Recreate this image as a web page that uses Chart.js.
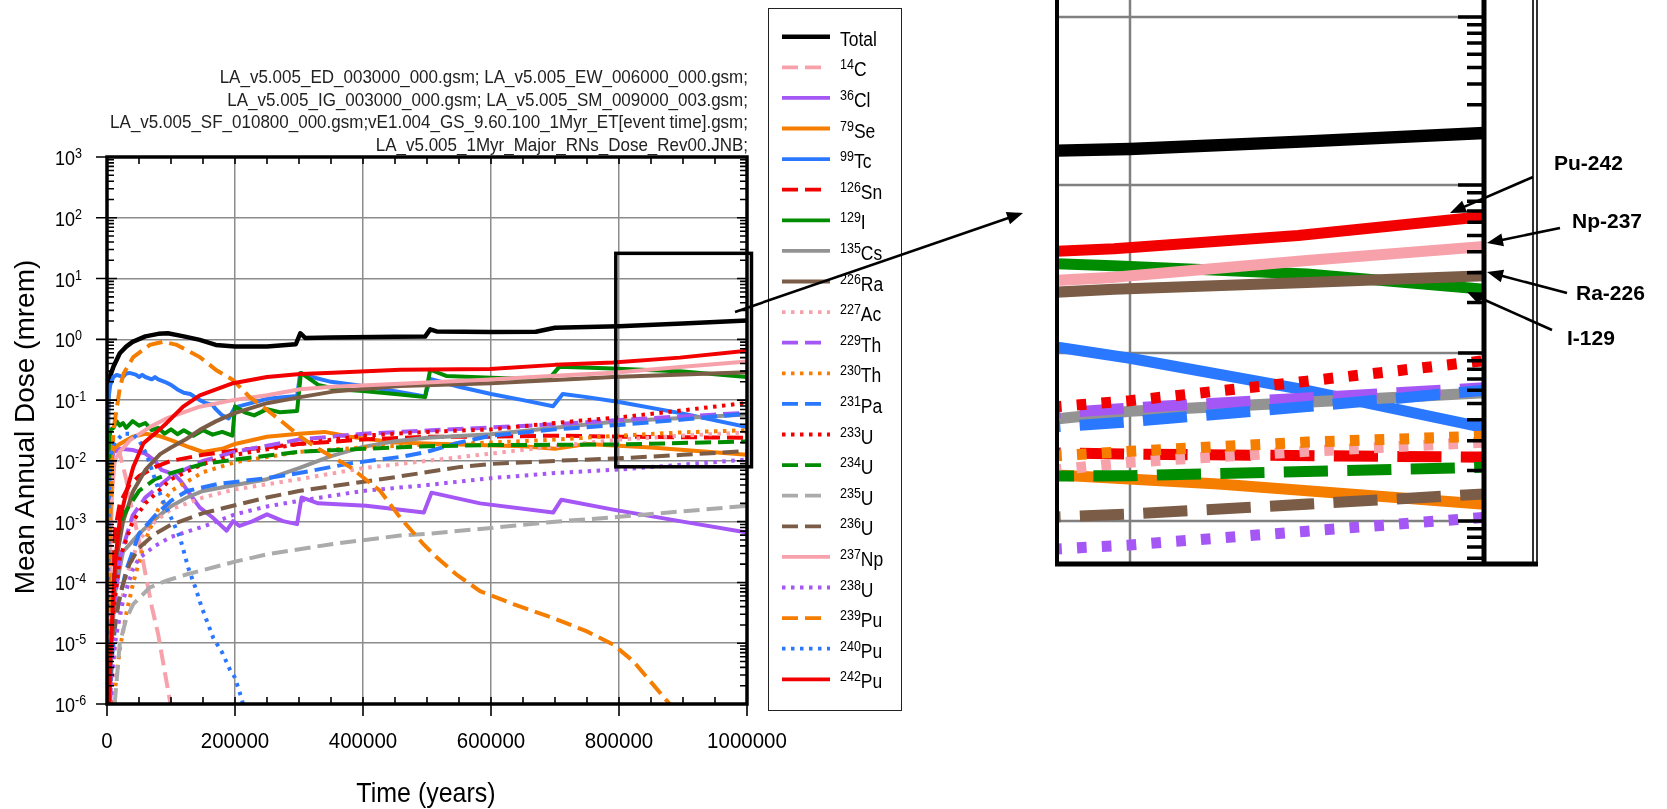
<!DOCTYPE html>
<html><head><meta charset="utf-8"><title>Mean Annual Dose</title>
<script src="https://cdn.jsdelivr.net/npm/chart.js@4.4.1/dist/chart.umd.min.js"></script>
<style>
html,body{margin:0;padding:0;background:#fff;}
body{width:1667px;height:809px;overflow:hidden;position:relative;font-family:"Liberation Sans",Arial,Helvetica,sans-serif;color:#000;}
canvas{position:absolute;}
.t{position:absolute;white-space:nowrap;line-height:1;}
.sup{position:relative;line-height:0;}
#legendBox{position:absolute;left:768px;top:8px;width:134px;height:703px;border:1.5px solid #222;box-sizing:border-box;}
svg{position:absolute;left:0;top:0;}
</style></head><body>
<canvas id="main" width="770" height="809" style="left:0;top:0"></canvas>
<canvas id="inset" width="520" height="620" style="left:1040px;top:-40px"></canvas>
<div id="legendBox"></div>
<svg id="legendSvg" width="1667" height="809"></svg>
<svg id="ann" width="1667" height="809"></svg>
<script>
// ---------------- data (time in years, dose in mrem) ----------------
const total = [[1000,0.02],[2000,0.166],[5000,0.25],[10000,0.355],[20000,0.59],[30000,0.76],[40000,0.91],[60000,1.12],[80000,1.23],[95000,1.26],[120000,1.12],[145000,0.98],[170000,0.81],[200000,0.76],[250000,0.76],[295000,0.83],[302000,1.26],[310000,1.05],[350000,1.07],[450000,1.1],[497000,1.11],[505000,1.46],[515000,1.35],[600000,1.32],[670000,1.33],[700000,1.55],[800000,1.64],[900000,1.82],[1000000,2.04]];
const c14 = [[1000,1e-6],[3000,3.2e-4],[6000,5e-3],[10000,0.0126],[15000,0.015],[20000,0.0132],[30000,5e-3],[40000,1.4e-3],[50000,5e-4],[60000,1.4e-4],[70000,4e-5],[80000,1.4e-5],[90000,3.5e-6],[100000,9e-7]];
const cl36 = [[1000,1e-6],[3000,1e-3],[6000,7.9e-3],[10000,0.0141],[20000,0.0158],[40000,0.0151],[60000,0.0132],[75000,0.01],[85000,7.1e-3],[105000,6e-3],[115000,4.7e-3],[130000,2.8e-3],[145000,1.7e-3],[165000,1.17e-3],[187000,7.1e-4],[197000,1.02e-3],[207000,8.5e-4],[228000,1.02e-3],[250000,1.32e-3],[275000,1.02e-3],[297000,9.1e-4],[304000,2.5e-3],[330000,2.0e-3],[405000,1.82e-3],[495000,1.41e-3],[507000,3.0e-3],[583000,2.0e-3],[697000,1.41e-3],[710000,2.3e-3],[791000,1.58e-3],[895000,1.02e-3],[1000000,6.6e-4]];
const se79 = [[1000,1e-6],[3000,1e-3],[6000,0.01],[10000,0.0158],[20000,0.019],[40000,0.025],[60000,0.028],[80000,0.026],[100000,0.022],[130000,0.0166],[150000,0.014],[180000,0.0158],[200000,0.019],[250000,0.025],[300000,0.028],[340000,0.03],[380000,0.025],[450000,0.02],[550000,0.0186],[650000,0.0174],[700000,0.0158],[750000,0.019],[850000,0.0166],[1000000,0.0126]];
const tc99 = [[500,0.001],[2000,0.1],[5000,0.178],[10000,0.24],[15000,0.26],[20000,0.25],[25000,0.24],[30000,0.275],[35000,0.28],[45000,0.263],[50000,0.24],[55000,0.26],[60000,0.24],[70000,0.22],[75000,0.24],[80000,0.22],[90000,0.2],[100000,0.178],[110000,0.15],[120000,0.132],[130000,0.126],[145000,0.1],[155000,0.089],[165000,0.083],[170000,0.071],[180000,0.056],[190000,0.05],[200000,0.076],[225000,0.089],[250000,0.105],[275000,0.112],[297000,0.117],[302000,0.28],[320000,0.24],[350000,0.2],[400000,0.17],[450000,0.14],[497000,0.115],[505000,0.224],[550000,0.166],[600000,0.126],[650000,0.1],[697000,0.079],[712000,0.126],[750000,0.112],[800000,0.093],[900000,0.06],[1000000,0.036]];
const sn126 = [[3000,1e-6],[6000,1e-4],[10000,5e-4],[20000,2e-3],[35000,4e-3],[50000,5.6e-3],[75000,7.9e-3],[100000,0.01],[150000,0.0126],[200000,0.0148],[300000,0.019],[400000,0.0224],[500000,0.025],[600000,0.025],[700000,0.026],[800000,0.025],[1000000,0.024]];
const i129 = [[500,1e-5],[2000,0.0032],[5000,0.032],[10000,0.035],[15000,0.045],[20000,0.038],[25000,0.042],[30000,0.035],[40000,0.045],[50000,0.038],[60000,0.042],[70000,0.032],[80000,0.035],[90000,0.028],[100000,0.033],[110000,0.0275],[120000,0.032],[135000,0.026],[150000,0.032],[165000,0.027],[180000,0.03],[196000,0.026],[200000,0.079],[215000,0.063],[230000,0.056],[250000,0.071],[270000,0.063],[297000,0.066],[303000,0.28],[330000,0.178],[360000,0.151],[400000,0.141],[450000,0.126],[497000,0.112],[505000,0.316],[530000,0.25],[600000,0.234],[690000,0.219],[707000,0.355],[790000,0.331],[900000,0.295],[1000000,0.24]];
const cs135 = [[3000,1e-6],[6000,6.3e-6],[12000,6.3e-5],[25000,3.2e-4],[50000,6.3e-4],[75000,1.1e-3],[100000,1.8e-3],[125000,2.5e-3],[150000,3.2e-3],[200000,4e-3],[250000,5e-3],[300000,7.6e-3],[350000,0.012],[400000,0.017],[450000,0.021],[500000,0.024],[600000,0.0275],[700000,0.035],[800000,0.045],[900000,0.051],[1000000,0.058]];
const ra226 = [[4000,1e-6],[8000,3.2e-5],[15000,2.5e-4],[25000,1e-3],[41000,3.2e-3],[60000,7.1e-3],[83000,0.0129],[100000,0.0166],[124000,0.0229],[145000,0.0324],[170000,0.0447],[197000,0.06],[250000,0.089],[302000,0.112],[353000,0.138],[458000,0.17],[600000,0.19],[700000,0.214],[791000,0.24],[900000,0.263],[1000000,0.288]];
const ac227 = [[5000,1e-6],[15000,1.6e-5],[30000,1.26e-4],[50000,5e-4],[75000,1e-3],[100000,1.6e-3],[150000,2.5e-3],[200000,3.4e-3],[300000,5e-3],[400000,7.6e-3],[500000,0.01],[600000,0.0132],[700000,0.0174],[800000,0.0224],[900000,0.026],[1000000,0.0295]];
const th229 = [[5000,1e-6],[10000,3.2e-5],[20000,2.5e-4],[40000,1.26e-3],[60000,2.5e-3],[100000,5.6e-3],[150000,0.01],[200000,0.0141],[300000,0.0224],[400000,0.028],[500000,0.0316],[600000,0.0355],[700000,0.04],[800000,0.047],[900000,0.054],[1000000,0.062]];
const th230 = [[10000,1e-6],[20000,8e-6],[30000,3e-5],[41000,1e-4],[60000,5e-4],[80000,1.6e-3],[100000,3.2e-3],[150000,6.5e-3],[200000,0.0095],[300000,0.0141],[400000,0.0166],[500000,0.0186],[600000,0.02],[700000,0.0224],[800000,0.026],[900000,0.0295],[1000000,0.032]];
const pa231 = [[3000,1e-6],[8000,6.3e-6],[15000,3.2e-5],[30000,1.6e-4],[50000,6.3e-4],[75000,1.26e-3],[100000,2.2e-3],[125000,3.2e-3],[175000,4.2e-3],[250000,5.2e-3],[300000,6.3e-3],[380000,9.1e-3],[460000,0.0117],[500000,0.0141],[550000,0.02],[600000,0.026],[700000,0.033],[800000,0.039],[900000,0.048],[1000000,0.06]];
const u233 = [[5000,1e-6],[10000,3.2e-5],[20000,2.5e-4],[40000,1e-3],[60000,2e-3],[100000,5e-3],[150000,8.9e-3],[200000,0.0126],[300000,0.019],[400000,0.026],[500000,0.03],[600000,0.033],[700000,0.042],[760000,0.048],[800000,0.052],[900000,0.068],[1000000,0.09]];
const u234 = [[3000,1e-6],[8000,3.2e-5],[15000,5e-4],[25000,1.26e-3],[50000,3.2e-3],[75000,5e-3],[100000,6.3e-3],[150000,8.9e-3],[200000,0.0105],[300000,0.0141],[400000,0.0158],[500000,0.0174],[600000,0.0182],[800000,0.0186],[1000000,0.0209]];
const u235 = [[12000,1e-6],[20000,1e-5],[30000,2.5e-5],[41000,4.4e-5],[67000,8.3e-5],[93000,1.07e-4],[124000,1.35e-4],[200000,2.2e-4],[250000,2.9e-4],[353000,4.3e-4],[458000,5.9e-4],[500000,6.3e-4],[600000,7.9e-4],[700000,1e-3],[800000,1.2e-3],[900000,1.48e-3],[1000000,1.82e-3]];
const u236 = [[3000,1e-6],[8000,1e-5],[20000,6.3e-5],[35000,2e-4],[50000,3.7e-4],[75000,6.3e-4],[100000,8.9e-4],[150000,1.38e-3],[200000,1.86e-3],[250000,2.5e-3],[300000,3.2e-3],[350000,3.8e-3],[450000,5.4e-3],[550000,7.9e-3],[600000,8.9e-3],[700000,0.01],[800000,0.011],[900000,0.0126],[1000000,0.0145]];
const np237 = [[2000,1e-6],[5000,3.2e-4],[8000,3.2e-3],[12000,0.01],[20000,0.0141],[36000,0.0219],[67000,0.036],[93000,0.05],[145000,0.078],[197000,0.1],[250000,0.12],[302000,0.151],[353000,0.166],[458000,0.186],[598000,0.219],[700000,0.251],[791000,0.282],[900000,0.355],[1000000,0.43]];
const u238 = [[5000,1e-6],[12000,1e-5],[25000,5e-5],[40000,1.6e-4],[50000,2.5e-4],[75000,4e-4],[100000,5.6e-4],[150000,8.3e-4],[200000,1.32e-3],[250000,1.78e-3],[300000,2.2e-3],[400000,3.2e-3],[500000,4e-3],[600000,5.2e-3],[700000,6.3e-3],[800000,7.2e-3],[900000,8.7e-3],[1000000,0.0105]];
const pu239 = [[2000,1e-6],[5000,1e-3],[10000,0.0316],[20000,0.158],[26000,0.275],[41000,0.51],[67000,0.81],[88000,0.91],[109000,0.81],[145000,0.51],[171000,0.31],[197000,0.214],[223000,0.112],[250000,0.069],[276000,0.042],[302000,0.025],[330000,0.0158],[380000,7.9e-3],[427000,3.2e-3],[458000,1.17e-3],[494000,4.3e-4],[515000,2.6e-4],[546000,1.35e-4],[583000,7.2e-5],[635000,4.4e-5],[697000,2.6e-5],[749000,1.58e-5],[791000,9.5e-6],[822000,5.1e-6],[853000,2.1e-6],[879000,1e-6],[890000,6.3e-7]];
const pu240 = [[1000,1e-5],[3000,3.2e-3],[6000,0.0126],[12000,0.02],[25000,0.028],[40000,0.028],[50000,0.022],[62000,0.0126],[75000,5e-3],[85000,2.5e-3],[100000,1.17e-3],[114000,5.5e-4],[127000,1.74e-4],[138000,8.3e-5],[148000,3.9e-5],[166000,1.23e-5],[180000,7e-6],[192000,3.7e-6],[200000,2.7e-6],[210000,1.26e-6],[215000,8e-7]];
const pu242 = [[3000,1e-6],[4700,4.7e-6],[7300,1.66e-5],[12500,2.1e-4],[20000,1.07e-3],[31000,3.3e-3],[41000,7.9e-3],[57000,0.0195],[78000,0.03],[93000,0.0417],[119000,0.078],[145000,0.12],[197000,0.19],[250000,0.24],[302000,0.269],[353000,0.282],[458000,0.316],[598000,0.324],[700000,0.38],[791000,0.417],[895000,0.5],[1000000,0.65]];

const seriesData = [total,c14,cl36,se79,tc99,sn126,i129,cs135,ra226,ac227,th229,th230,pa231,u233,u234,u235,u236,np237,u238,pu239,pu240,pu242];
const seriesPlain = ['Total','14C','36Cl','79Se','99Tc','126Sn','129I','135Cs','226Ra','227Ac','229Th','230Th','231Pa','233U','234U','235U','236U','237Np','238U','239Pu','240Pu','242Pu'];
const seriesMass = ['','14','36','79','99','126','129','135','226','227','229','230','231','233','234','235','236','237','238','239','240','242'];
const seriesElem = ['Total','C','Cl','Se','Tc','Sn','I','Cs','Ra','Ac','Th','Th','Pa','U','U','U','U','Np','U','Pu','Pu','Pu'];
const seriesStyle = ['solid','dash','solid','solid','solid','dash','solid','solid','solid','dot','dash','dot','dash','dot','dash','dash','dash','solid','dot','dash','dot','solid'];
const C = {black:'#000000',pink:'#f7a1ab',purple:'#a557f5',orange:'#f57d00',blue:'#2a78ff',red:'#f20000',green:'#008c00',gray:'#939393',lgray:'#ababab',brown:'#7b5c47'};
const seriesColors = [C.black,C.pink,C.purple,C.orange,C.blue,C.red,C.green,C.gray,C.brown,C.pink,C.purple,C.orange,C.blue,C.red,C.green,C.lgray,C.brown,C.pink,C.purple,C.orange,C.blue,C.red];

const xTickVals = [0,200000,400000,600000,800000,1000000];
const yTickExps = [3,2,1,0,-1,-2,-3,-4,-5,-6];
const zoomWindowX = [795000,1007000];
const zoomWindowY = [0.008,26];
const headerLines = ['LA_v5.005_ED_003000_000.gsm; LA_v5.005_EW_006000_000.gsm;','LA_v5.005_IG_003000_000.gsm; LA_v5.005_SM_009000_003.gsm;','LA_v5.005_SF_010800_000.gsm;vE1.004_GS_9.60.100_1Myr_ET[event time].gsm;','LA_v5.005_1Myr_Major_RNs_Dose_Rev00.JNB;'];
const calloutNames = ['Pu-242','Np-237','Ra-226','I-129'];

// ---------------- helpers ----------------
function buildDatasets(k){
  return seriesData.map((pts,i)=>{
    const st = seriesStyle[i];
    return {
      label: seriesPlain[i],
      data: pts.map(p=>({x:p[0],y:p[1]})),
      borderColor: seriesColors[i],
      backgroundColor: seriesColors[i],
      borderWidth: (i===0?4.5:4)*k,
      borderDash: st==='dash'?[16*k,7*k]:(st==='dot'?[3.5*k,5.5*k]:[]),
      borderCapStyle:'butt',
      borderJoinStyle: st==='solid'?'round':'miter',
      pointRadius:0, fill:false, tension:0,
      order: seriesData.length - i
    };
  });
}
const zeroX = s=>{s.height=0;}, zeroY = s=>{s.width=0;};

const mainDecor = {
  id:'mainDecor',
  afterDatasetsDraw(chart){
    const {ctx, chartArea:a, scales:{x,y}} = chart;
    ctx.save();
    ctx.strokeStyle='#000'; ctx.lineWidth=1.6;
    ctx.beginPath();
    yTickExps.forEach(e=>{
      const py = y.getPixelForValue(Math.pow(10,e));
      ctx.moveTo(a.left-11,py); ctx.lineTo(a.left+10,py);
      ctx.moveTo(a.right-10,py); ctx.lineTo(a.right,py);
      if(e<3){ for(let m=2;m<=9;m++){ const p=y.getPixelForValue(m*Math.pow(10,e));
        ctx.moveTo(a.left,p); ctx.lineTo(a.left+7,p); ctx.moveTo(a.right-7,p); ctx.lineTo(a.right,p);} }
    });
    for(let t=0;t<=1000000;t+=50000){
      const px=x.getPixelForValue(t);
      ctx.moveTo(px,a.bottom); ctx.lineTo(px,a.bottom-7);
      ctx.moveTo(px,a.top); ctx.lineTo(px,a.top+7);
    }
    xTickVals.forEach(t=>{const px=x.getPixelForValue(t); ctx.moveTo(px,a.bottom); ctx.lineTo(px,a.bottom+12);});
    ctx.stroke();
    ctx.lineWidth=3.5;
    ctx.strokeRect(a.left,a.top,a.right-a.left,a.bottom-a.top);
    // zoom window box
    const bx0=x.getPixelForValue(zoomWindowX[0]), bx1=x.getPixelForValue(zoomWindowX[1]);
    const by0=y.getPixelForValue(zoomWindowY[0]), by1=y.getPixelForValue(zoomWindowY[1]);
    ctx.lineWidth=3.5;
    ctx.strokeRect(bx0,by1,bx1-bx0,by0-by1);
    ctx.restore();
  }
};

const insetDecor = {
  id:'insetDecor',
  beforeDatasetsDraw(chart){
    const {ctx, chartArea:a, scales:{x,y}} = chart;
    const xr = x.getPixelForValue(1000000);
    ctx.save(); ctx.strokeStyle='#808080'; ctx.lineWidth=2.5; ctx.beginPath();
    [1,0,-1,-2].forEach(e=>{const py=y.getPixelForValue(Math.pow(10,e)); ctx.moveTo(a.left,py); ctx.lineTo(xr,py);});
    const gx=x.getPixelForValue(800000); ctx.moveTo(gx,a.top); ctx.lineTo(gx,a.bottom);
    ctx.stroke(); ctx.restore();
  },
  afterDatasetsDraw(chart){
    const {ctx, chartArea:a, scales:{x,y}} = chart;
    const xr = x.getPixelForValue(1000000);
    ctx.save(); ctx.strokeStyle='#000';
    ctx.lineWidth=3.5; ctx.beginPath();
    [1,0,-1,-2].forEach(e=>{
      const py=y.getPixelForValue(Math.pow(10,e)); ctx.moveTo(xr-26,py); ctx.lineTo(xr,py);
      for(let m=2;m<=9;m++){const p=y.getPixelForValue(m*Math.pow(10,e)); if(p>a.top && p<a.bottom){ctx.moveTo(xr-17,p); ctx.lineTo(xr,p);}}
    });
    for(let m=2;m<=9;m++){const p=y.getPixelForValue(m*Math.pow(10,-3)); if(p>a.top && p<a.bottom){ctx.moveTo(xr-17,p); ctx.lineTo(xr,p);}}
    ctx.stroke();
    ctx.lineWidth=5; ctx.beginPath(); ctx.moveTo(xr,a.top); ctx.lineTo(xr,a.bottom); ctx.stroke();
    ctx.lineWidth=4; ctx.beginPath(); ctx.moveTo(a.left,a.top); ctx.lineTo(a.left,a.bottom+2); ctx.stroke();
    ctx.lineWidth=5; ctx.beginPath(); ctx.moveTo(a.left-2,a.bottom); ctx.lineTo(a.right+3,a.bottom); ctx.stroke();
    ctx.lineWidth=1.6; ctx.beginPath();
    ctx.moveTo(a.right-2,a.top); ctx.lineTo(a.right-2,a.bottom);
    ctx.moveTo(a.right+2,a.top); ctx.lineTo(a.right+2,a.bottom);
    ctx.stroke();
    ctx.restore();
  }
};

// ---------------- main chart ----------------
const mainChart = new Chart(document.getElementById('main'),{
  type:'line',
  data:{datasets:buildDatasets(1)},
  options:{
    responsive:false, animation:false, devicePixelRatio:1,
    layout:{padding:{left:107,top:157,right:23,bottom:105}},
    plugins:{legend:{display:false},tooltip:{enabled:false}},
    scales:{
      x:{type:'linear',min:0,max:1000000,ticks:{display:false,stepSize:200000},
         grid:{color:'#8c8c8c',lineWidth:1.5,drawTicks:false},border:{display:false},afterFit:zeroX},
      y:{type:'logarithmic',min:1e-6,max:1e3,ticks:{display:false},
         grid:{color:'#8c8c8c',lineWidth:1.5,drawTicks:false},border:{display:false},
         afterBuildTicks:s=>{s.ticks=yTickExps.map(e=>({value:Math.pow(10,e)}));},afterFit:zeroY}
    }
  },
  plugins:[mainDecor]
});

// ---------------- inset (magnified window) ----------------
const insetK = 2.76;
const insetChart = new Chart(document.getElementById('inset'),{
  type:'line',
  data:{datasets:buildDatasets(insetK)},
  options:{
    responsive:false, animation:false, devicePixelRatio:1,
    layout:{padding:{left:17,top:10,right:25,bottom:16}},
    plugins:{legend:{display:false},tooltip:{enabled:false}},
    scales:{
      x:{type:'linear',min:758760,max:1028810,ticks:{display:false},grid:{display:false},border:{display:false},afterFit:zeroX},
      y:{type:'logarithmic',min:Math.pow(10,-2.256),max:Math.pow(10,1.28),ticks:{display:false},grid:{display:false},border:{display:false},afterFit:zeroY}
    }
  },
  plugins:[insetDecor]
});

// ---------------- text ----------------
function addText(html, css){
  const d=document.createElement('div'); d.className='t'; d.innerHTML=html; d.style.cssText+=css; document.body.appendChild(d); return d;
}
const headerY=[77,99.7,122.4,145.1];
headerLines.forEach((s,i)=>{
  const d=addText('', `right:${1667-748}px;top:${headerY[i]}px;font-size:17px;color:#222;transform:translateY(-50%) scaleY(1.12);transform-origin:100% 50%;`);
  d.textContent=s;
});
const ms=mainChart.scales;
yTickExps.forEach(e=>{
  const py=ms.y.getPixelForValue(Math.pow(10,e));
  addText(`10<span class="sup" style="font-size:12.5px;top:-6.5px">${e<0?'-'+(-e):e}</span>`,
    `left:55px;top:${py+1}px;font-size:18px;transform:translateY(-50%) scaleY(1.12);`);
});
xTickVals.forEach(v=>{
  const px=ms.x.getPixelForValue(v);
  addText(String(v), `left:${px}px;top:740px;font-size:20.5px;transform:translate(-50%,-50%) scaleY(1.12);`);
});
addText('Time (years)', 'left:426px;top:792px;font-size:25px;transform:translate(-50%,-50%) scaleY(1.12);');
addText('Mean Annual Dose (mrem)', 'left:25px;top:427px;font-size:28px;transform:translate(-50%,-50%) rotate(-90deg);');

// legend
const NS='http://www.w3.org/2000/svg';
const lsvg=document.getElementById('legendSvg');
const legendTop=36.7, legendStep=30.6;
seriesPlain.forEach((n,i)=>{
  const yy=legendTop+i*legendStep, st=seriesStyle[i];
  const ln=document.createElementNS(NS,'line');
  ln.setAttribute('x1',782); ln.setAttribute('x2',st==='dash'?821:830);
  ln.setAttribute('y1',yy); ln.setAttribute('y2',yy);
  ln.setAttribute('stroke',seriesColors[i]); ln.setAttribute('stroke-width',i===0?4.5:3.8);
  if(st==='dash') ln.setAttribute('stroke-dasharray','16 7');
  if(st==='dot') ln.setAttribute('stroke-dasharray','3.5 5.5');
  lsvg.appendChild(ln);
  const lab = seriesMass[i] ? `<span class="sup" style="font-size:12.5px;top:-6.4px">${seriesMass[i]}</span>${seriesElem[i]}` : seriesElem[i];
  addText(lab, `left:840px;top:${yy-7}px;height:18px;line-height:18px;font-size:17.5px;transform:scaleY(1.12);transform-origin:0 50%;`);
});

// callout labels
const calloutPos=[[1554,162],[1572,220],[1576,292],[1567,337]];
calloutNames.forEach((n,i)=>{
  addText(n, `left:${calloutPos[i][0]}px;top:${calloutPos[i][1]}px;font-size:21px;font-weight:bold;transform:translateY(-50%);`);
});

// arrows
const ann=document.getElementById('ann');
function arrow(x1,y1,x2,y2,w){
  const dx=x2-x1, dy=y2-y1, L=Math.hypot(dx,dy), ux=dx/L, uy=dy/L, hl=16, hw=6.5;
  const bx=x2-ux*hl, by=y2-uy*hl;
  const l=document.createElementNS(NS,'line');
  l.setAttribute('x1',x1); l.setAttribute('y1',y1); l.setAttribute('x2',bx+ux*2); l.setAttribute('y2',by+uy*2);
  l.setAttribute('stroke','#000'); l.setAttribute('stroke-width',w); ann.appendChild(l);
  const p=document.createElementNS(NS,'polygon');
  p.setAttribute('points',`${x2},${y2} ${bx-uy*hw},${by+ux*hw} ${bx+uy*hw},${by-ux*hw}`);
  p.setAttribute('fill','#000'); ann.appendChild(p);
}
arrow(735,312,1023,213,2.6);
arrow(1533,177,1450,213,2.6);
arrow(1560,228,1487,243,2.6);
arrow(1567,293,1487,272,2.6);
arrow(1552,330,1467,292,2.6);
</script></body></html>
